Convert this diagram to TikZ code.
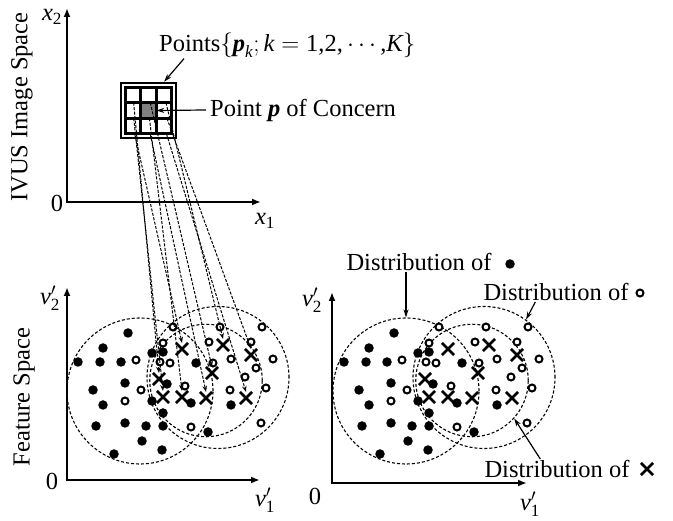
\documentclass[tikz,border=0pt]{standalone}
\usepackage{amsmath,bm}
\usepackage{fontspec}
\setmainfont{Liberation Serif}
\usetikzlibrary{arrows.meta,shapes.misc}

\begin{document}
\begin{tikzpicture}[x=1pt,y=-1pt,
  font=\fontsize{24.5}{29}\selectfont,
  ax/.style={line width=2pt,{Latex[length=9pt,width=7pt]}-{Latex[length=9pt,width=7pt]}},
  dcirc/.style={circle,draw,dash pattern=on 3pt off 2pt,line width=1.1pt,inner sep=0pt},
  fd/.style={circle,fill=black,inner sep=0pt,minimum size=9.5pt},
  od/.style={circle,draw=black,fill=white,line width=2pt,inner sep=0pt,minimum size=7pt},
  xm/.style={cross out,draw=black,line width=2.7pt,inner sep=0pt,minimum size=9.5pt},
  cell/.style={draw,line width=3pt,minimum size=15.6pt,inner sep=0pt,outer sep=0pt},
  mapline/.style={dash pattern=on 3pt off 1.5pt,line width=1pt,-{Stealth[length=6pt,width=4.5pt]}},
  ptr/.style={line width=1.2pt,-{Stealth[length=8pt,width=5pt]}},
  lbl/.style={inner sep=1pt}]
  \useasboundingbox (0,0) rectangle (673,521);
  % IVUS image space
  \coordinate (o1) at (67,202);
  \coordinate (y1) at (67,8);
  \coordinate (x1) at (261,202);
  \draw[ax] (y1) -- (o1) -- (x1);
  \node[lbl] (z1) at (57,203) {0};
  \node[lbl] (lx2) at (52,17) {$\textit{x}_{\text{2}}$};
  \node[lbl] (lx1) at (265,221) {$\textit{x}_{\text{1}}$};
  \node[lbl,rotate=90] (ivus) at (22,107) {IVUS Image Space};
  % window of points
  \foreach \r in {1,2,3}
    \foreach \c in {1,2,3}
      \node[cell] (c\r\c) at (117.3+15.6*\c,79.3+15.6*\r) {};
  \node[fill=gray,minimum size=12.6pt,inner sep=0pt] (pc) at (c22) {};
  \node[draw,line width=2.5pt,minimum size=55pt,inner sep=0pt] (win) at (c22) {};
  \node[lbl,anchor=west] (pts) at (158,45)
    {Points$\{\textbf{\textit{p}}_{\textit{k}};\textit{k}=\text{1,2,}\cdots\text{,}\textit{K}\}$};
  \node[lbl,anchor=west] (poc) at (209,110) {Point \textbf{\textit{p}} of Concern};
  \draw[ptr] ([xshift=26pt]pts.south west) -- (c13 |- win.north);
  \draw[ptr] ([xshift=-3pt]poc.west) -- (c23.west);
  % feature spaces (left with mapping, right plain)
  \coordinate (o2) at (67,480);
  \coordinate (y2) at (67,287);
  \coordinate (x2) at (260,480);
  \draw[ax] (y2) -- (o2) -- (x2);
  \node[lbl] (z2) at (52,481) {0};
  \node[lbl] (lv2) at (50,298) {$\textit{v}'_{\text{2}}$};
  \node[lbl] (lv1) at (265,500) {$\textit{v}'_{\text{1}}$};
  \node[lbl,rotate=90] (feat) at (24,397) {Feature Space};
  \coordinate (o3) at (332,483);
  \coordinate (y3) at (332,292);
  \coordinate (x3) at (527,483);
  \draw[ax] (y3) -- (o3) -- (x3);
  \node[lbl] (z3) at (315,496) {0};
  \node[lbl] (rv2) at (312,300) {$\textit{v}'_{\text{2}}$};
  \node[lbl] (rv1) at (530,504) {$\textit{v}'_{\text{1}}$};
  \foreach \dx/\sd in {-266/l,0/r}{
    \node[dcirc,minimum size=146pt] (cf\sd) at (406+\dx,391) {};
    \node[dcirc,minimum size=142pt] (co\sd) at (484+\dx,377.5) {};
    \node[dcirc,minimum size=112.5pt] (ci\sd) at (472+\dx,380.5) {};
    \foreach \px/\py [count=\i] in {394/333,369/348,344/362,366/362,387/362,418/353,
        429/352,391/383,359/390,433/384,369/405,418/401,429/413,362/426,391/423,
        412/426,429/426,408/441,380/454,428/450,462/363,457/403,497/405,474/432}
      \node[fd] (f\sd\i) at (\px+\dx,\py) {};
    \foreach \px/\py [count=\i] in {402/360,407/390,391/401,429/343,426/362,436/363,
        439/327,486/327,528/327,475/342,517/342,479/363,497/359,539/359,522/368,
        511/377,451/386,496/390,532/388,457/427,527/423}
      \node[od] (o\sd\i) at (\px+\dx,\py) {};
    \foreach \px/\py [count=\i] in {425/379,429/397,448/349,489/345,517/355,
        478/373,448/397,472/398,512/398}
      \node[xm] (x\sd\i) at (\px+\dx,\py) {};
  }
  % mapping of the window
  \foreach \s/\t in {c11/1,c21/2,c31/3,c13/4,c23/5,c12/6,c22/7,c32/8,c33/9}
    \draw[mapline] (\s) -- (xl\t.north);
  % distributions
  \node[lbl] (d1) at (419,262) {Distribution of};
  \node[fd] (d1m) at (510,264) {};
  \draw[ptr] (d1.south -| cfr.north) -- (cfr.north);
  \node[lbl] (d2) at (556,292) {Distribution of};
  \node[od] (d2m) at (640,293) {};
  \draw[ptr] ([xshift=53pt]d2.south west) -- (cor.54);
  \node[lbl] (d3) at (557,469) {Distribution of};
  \node[xm] (d3m) at (647,469) {};
  \draw[ptr] ([xshift=57pt]d3.north west) -- (cir.-42);
\end{tikzpicture}
\end{document}
